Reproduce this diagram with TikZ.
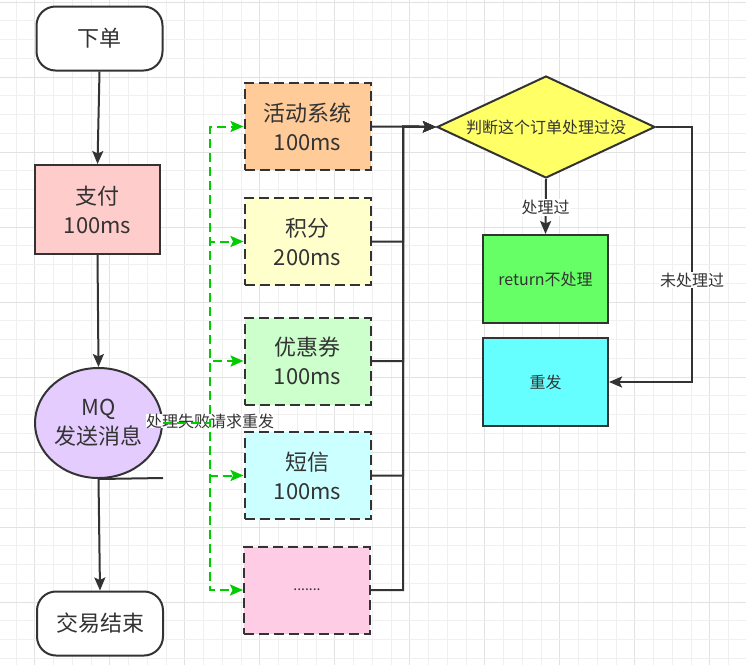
\documentclass[tikz,border=0pt]{standalone}
\usepackage{fontspec}
\setmainfont{Noto Sans CJK SC}
\usetikzlibrary{arrows.meta,shapes.geometric}
\definecolor{dk}{HTML}{333333}
\definecolor{gminor}{HTML}{F0F0F0}
\definecolor{gmajor}{HTML}{E2E2E2}
\definecolor{cpay}{HTML}{FFCCCC}
\definecolor{cmq}{HTML}{E5CCFF}
\definecolor{cact}{HTML}{FFCC99}
\definecolor{cpts}{HTML}{FFFFCC}
\definecolor{ccpn}{HTML}{CCFFCC}
\definecolor{csms}{HTML}{CCFFFF}
\definecolor{cdot}{HTML}{FFCCE6}
\definecolor{cdia}{HTML}{FFFF66}
\definecolor{cret}{HTML}{66FF66}
\definecolor{cre}{HTML}{66FFFF}
\definecolor{gdash}{HTML}{00CC00}
\tikzset{
  bigtxt/.style={font=\fontsize{22}{29}\selectfont, text=dk, align=center},
  smalltxt/.style={font=\fontsize{16}{19}\selectfont, text=dk, align=center},
  termbox/.style={draw=dk, line width=2pt, rounded corners=19pt, minimum width=126pt, minimum height=64pt, fill=white, bigtxt},
  solidbox/.style={draw=dk, line width=2pt, minimum width=125pt, minimum height=89pt, bigtxt},
  dashbox/.style={draw=dk, line width=2pt, dash pattern=on 10pt off 5pt, minimum width=126pt, minimum height=87pt, bigtxt},
  resbox/.style={draw=dk, line width=2pt, minimum width=125pt, minimum height=88pt, smalltxt},
  conn/.style={draw=dk, line width=2pt},
  arr/.style={conn, -{Stealth[length=13pt,width=11pt,inset=2.5pt]}},
  garr/.style={draw=gdash, line width=2pt, dash pattern=on 9pt off 5pt, -{Stealth[length=13pt,width=11pt,inset=2.5pt]}},
  lbl/.style={fill=white, inner sep=1pt, smalltxt}
}
\begin{document}
\begin{tikzpicture}[x=1pt,y=-1pt]
\useasboundingbox (0,0) rectangle (746,665);
\fill[white] (0,0) rectangle (746,665);
% grid
\foreach \i in {0,...,39} {
  \pgfmathsetmacro{\gx}{16+18.75*\i}
  \pgfmathtruncatemacro{\m}{mod(\i,4)}
  \ifnum\m=1 \draw[gmajor, line width=1pt] (\gx,0) -- (\gx,665);
  \else \draw[gminor, line width=1pt] (\gx,0) -- (\gx,665); \fi
}
\foreach \j in {0,...,35} {
  \pgfmathsetmacro{\gy}{2+18.75*\j}
  \pgfmathtruncatemacro{\m}{mod(\j,4)}
  \ifnum\m=0 \draw[gmajor, line width=1pt] (0,\gy) -- (746,\gy);
  \else \draw[gminor, line width=1pt] (0,\gy) -- (746,\gy); \fi
}
% left column
\node[termbox] (xd) at (99.5,38.5) {下单};
\node[solidbox, fill=cpay] (zf) at (97.5,209.5) {支付\\100ms};
\node[ellipse, draw=dk, line width=2pt, fill=cmq, minimum width=127pt, minimum height=110pt, inner sep=0pt, bigtxt] (mq) at (98.5,423) {MQ\\发送消息};
\node[termbox] (end) at (100,623.5) {交易结束};
% middle column
\node[dashbox, fill=cact] (b1) at (307.5,126.5) {活动系统\\100ms};
\node[dashbox, fill=cpts] (b2) at (307.5,241.5) {积分\\200ms};
\node[dashbox, fill=ccpn] (b3) at (307.5,361) {优惠券\\100ms};
\node[dashbox, fill=csms] (b4) at (307.5,475.5) {短信\\100ms};
\node[dashbox, fill=cdot] (b5) at (307,590) {\fontsize{14}{18}\selectfont .......};
% right column
\node[diamond, draw=dk, line width=2pt, fill=cdia, minimum width=218pt, minimum height=102pt, aspect=2.14, inner sep=0pt, smalltxt] (dm) at (546,127) {判断这个订单处理过没};
\node[resbox, fill=cret] (ret) at (545.5,279) {return不处理};
\node[resbox, fill=cre] (cf) at (545.5,382) {重发};
% coordinates
\coordinate (bus) at (403,126.5);
\coordinate (rt) at (692,127);
\coordinate (stub) at (163,478);
\coordinate (gt) at (210,423);
% black connectors
\draw[arr] (xd.south) -- (zf.north);
\draw[arr] (zf.south) -- (mq.north);
\draw[arr] (mq.south) -- (end.north);
\draw[conn] (mq.south) -- (stub);
\draw[arr] (b1.east) -- (dm.west);
\foreach \b in {b2,b3,b4,b5} { \draw[arr] (\b.east) -| (bus) -- (dm.west); }
\draw[arr] (dm.south) -- (ret.north) node[lbl, pos=0.52] {处理过};
\draw[arr] (dm.east) -- (rt) |- (cf.east) node[lbl, pos=0.3] {未处理过};
% green retry connectors
\node[lbl, fill=white, inner sep=0pt] (retry) at (210,421) {处理失败请求重发};
\foreach \b in {b1,b2,b3,b4,b5} { \draw[garr] (mq.east) -- (gt) |- (\b.west); }
\end{tikzpicture}
\end{document}
